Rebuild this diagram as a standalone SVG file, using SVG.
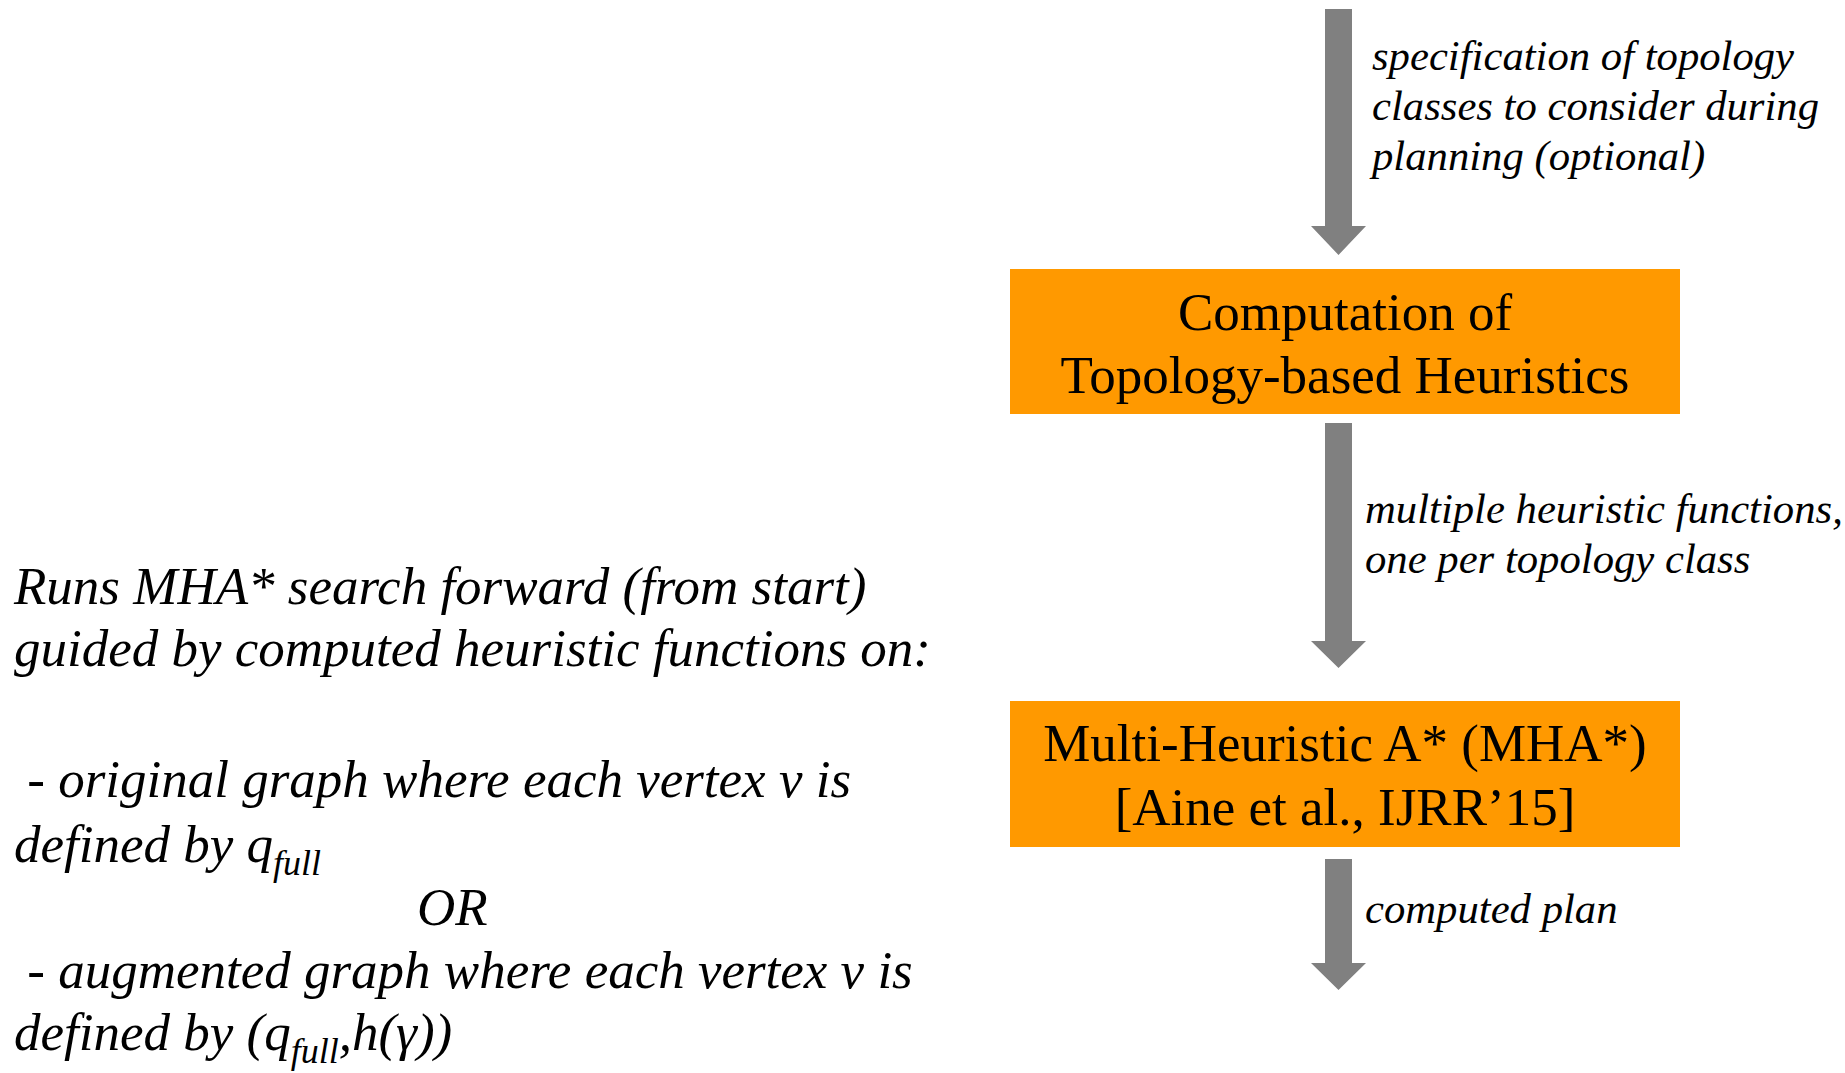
<svg xmlns="http://www.w3.org/2000/svg" width="1845" height="1073" viewBox="0 0 1845 1073">
  <style>
    .box { fill: #FF9900; }
    .boxText { font-family: "Liberation Serif", "Times New Roman", serif; font-size: 53px; fill: #000; text-anchor: middle; }
    .label { font-family: "Liberation Serif", "Times New Roman", serif; font-style: italic; font-size: 42.7px; fill: #000; }
    .note { font-family: "Liberation Serif", "Times New Roman", serif; font-style: italic; font-size: 53px; fill: #000; }
    .sub { font-size: 36px; }
    .arrow { fill: #808080; }
  </style>
  <rect width="1845" height="1073" fill="#FFFFFF"/>

  <!-- block arrows between the stages -->
  <g id="connectors">
    <polygon class="arrow" points="1325,9 1352,9 1352,226 1366,226 1338.5,255 1311,226 1325,226"/>
    <polygon class="arrow" points="1325,423 1352,423 1352,641 1366,641 1338.5,668 1311,641 1325,641"/>
    <polygon class="arrow" points="1325,859 1352,859 1352,963 1366,963 1338.5,990 1311,963 1325,963"/>
    <text class="label" x="1372" y="70">specification of topology</text>
    <text class="label" x="1372" y="120">classes to consider during</text>
    <text class="label" x="1372" y="170">planning (optional)</text>
    <text class="label" x="1365" y="523">multiple heuristic functions,</text>
    <text class="label" x="1365" y="573">one per topology class</text>
    <text class="label" x="1365" y="923">computed plan</text>
  </g>

  <g id="heuristics">
    <rect class="box" x="1010" y="269" width="670" height="145"/>
    <text class="boxText" x="1345" y="330">Computation of</text>
    <text class="boxText" x="1345" y="393">Topology-based Heuristics</text>
  </g>

  <g id="mha">
    <rect class="box" x="1010" y="701" width="670" height="146"/>
    <text class="boxText" x="1345" y="761">Multi-Heuristic A* (MHA*)</text>
    <text class="boxText" x="1345" y="825">[Aine et al., IJRR’15]</text>
  </g>

  <g id="description">
    <text class="note" x="14" y="604">Runs MHA* search forward (from start)</text>
    <text class="note" x="14" y="666">guided by computed heuristic functions on:</text>
    <text class="note" x="14" y="797" xml:space="preserve"> - original graph where each vertex v is</text>
    <text class="note" x="14" y="862">defined by q<tspan class="sub" dy="13">full</tspan></text>
    <text class="note" x="417" y="925">OR</text>
    <text class="note" x="14" y="988" xml:space="preserve"> - augmented graph where each vertex v is</text>
    <text class="note" x="14" y="1050">defined by (q<tspan class="sub" dy="13">full</tspan><tspan dy="-13">,h(γ))</tspan></text>
  </g>
</svg>
